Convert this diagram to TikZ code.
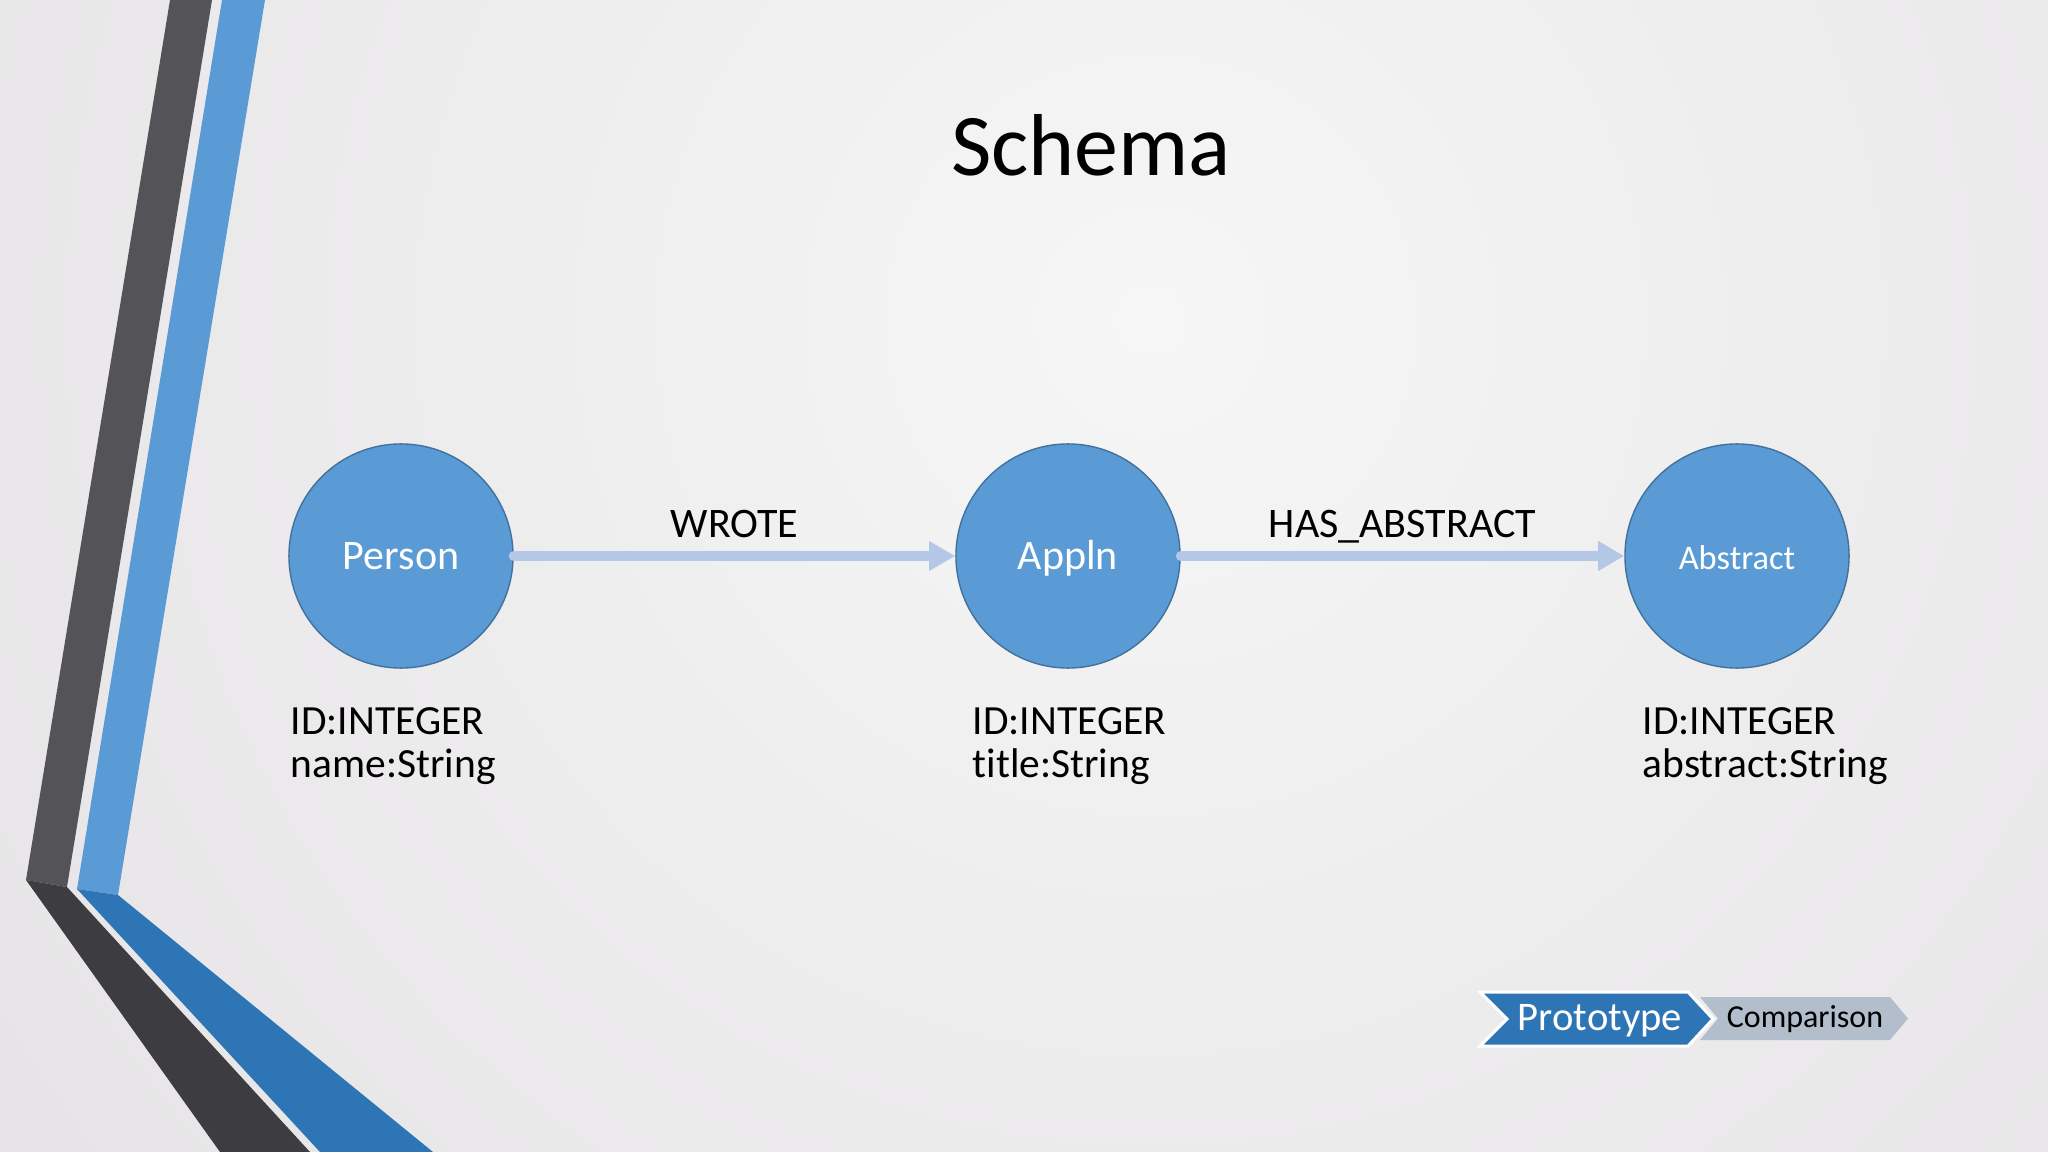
\documentclass[tikz,border=0pt]{standalone}
\usepackage{fontspec}
\setmainfont{Carlito}[Ligatures=CommonOff]
\usepackage{tikz}
\usetikzlibrary{arrows.meta}
\usepackage{xcolor}
\definecolor{nodeblue}{HTML}{5B9BD5}
\definecolor{nodeline}{HTML}{41719C}
\definecolor{linkblue}{HTML}{B4C7E7}
\definecolor{bandgray}{HTML}{545357}
\definecolor{banddark}{HTML}{3D3C40}
\definecolor{banddeep}{HTML}{2E75B6}
\definecolor{crumbgray}{HTML}{B3BECC}
\definecolor{bginner}{HTML}{F6F6F6}
\definecolor{bgouter}{HTML}{D8D4D8}
\tikzset{
  sch_n/.style = {circle, fill=nodeblue, draw=nodeline, line width=0.4pt,
    minimum size=2.24cm, inner sep=0pt, text=white, text height=0.27cm,
    text depth=0pt, font=\fontsize{11.95}{14}\selectfont},% schema node
  sch_a/.style = {anchor=north west, inner sep=0pt, align=left,
    font=\fontsize{11.8}{12.3}\selectfont},% attributes under a node
  sch_l/.style = {-{Triangle[length=0.26cm,width=0.28cm]}, line width=0.1cm,
    draw=linkblue, line cap=round},% relation arrow
  sch_t/.style = {anchor=base, inner sep=0pt, yshift=0.18cm,
    font=\fontsize{11.95}{14}\selectfont},% relation label
  crumb/.style = {anchor=base, inner sep=0pt}% breadcrumb text
}

\begin{document}
\begin{tikzpicture}[x=0.01cm,y=-0.01cm]
    \useasboundingbox (0,0) rectangle (2048,1152);
    % background
    \fill[bgouter] (0,0) rectangle (2048,1152);
    \begin{scope}
      \clip (0,0) rectangle (2048,1152);
      \shade[inner color=bginner, outer color=bgouter] (1150,320) circle [radius=26cm];
    \end{scope}
    % side bands
    \fill[bandgray] (170,0) -- (212,0) -- (67,887) -- (26,880) -- cycle;
    \fill[banddark] (26,880) -- (67,887) -- (310,1152) -- (220,1152) -- cycle;
    \fill[nodeblue] (222,0) -- (265,0) -- (118,895) -- (77,889) -- cycle;
    \fill[banddeep] (77,889) -- (118,895) -- (433,1152) -- (320,1152) -- cycle;

    \node[anchor=base, font=\fontsize{25}{30}\selectfont] (title) at (1091,176) {Schema};

    \node[sch_n] (person) at (401,556) {Person};
    \node[sch_n] (appln) at (1068,556) {Appln};
    \node[sch_n, font=\fontsize{9.8}{12}\selectfont] (abstract) at (1737,556) {Abstract};

    \node[sch_a] (person_a) at (290,707) {ID:INTEGER\\name:String};
    \node[sch_a] (appln_a) at (972,707) {ID:INTEGER\\title:String};
    \node[sch_a] (abstract_a) at (1642,707) {ID:INTEGER\\abstract:String};

    \draw[sch_l] (person) -- (appln) node[sch_t, midway] (wrote) {WROTE};
    \draw[sch_l] (appln) -- (abstract) node[sch_t, midway] (hasabs) {HAS\_ABSTRACT};

    % breadcrumb
    \fill[crumbgray] (1700,997) -- (1890,997) -- (1908,1018.5) -- (1890,1040)
      -- (1700,1040) -- (1718,1018.5) -- cycle;
    \filldraw[fill=banddeep, draw=white, line width=0.03cm] (1480,992) -- (1688,992)
      -- (1713,1019) -- (1688,1046) -- (1480,1046) -- (1507,1019) -- cycle;
    \node[crumb, text=white, font=\fontsize{11.55}{14}\selectfont] (proto) at (1600,1030) {Prototype};
    \node[crumb, font=\fontsize{9.1}{11}\selectfont] (compare) at (1805,1027) {Comparison};
\end{tikzpicture}
\end{document}
